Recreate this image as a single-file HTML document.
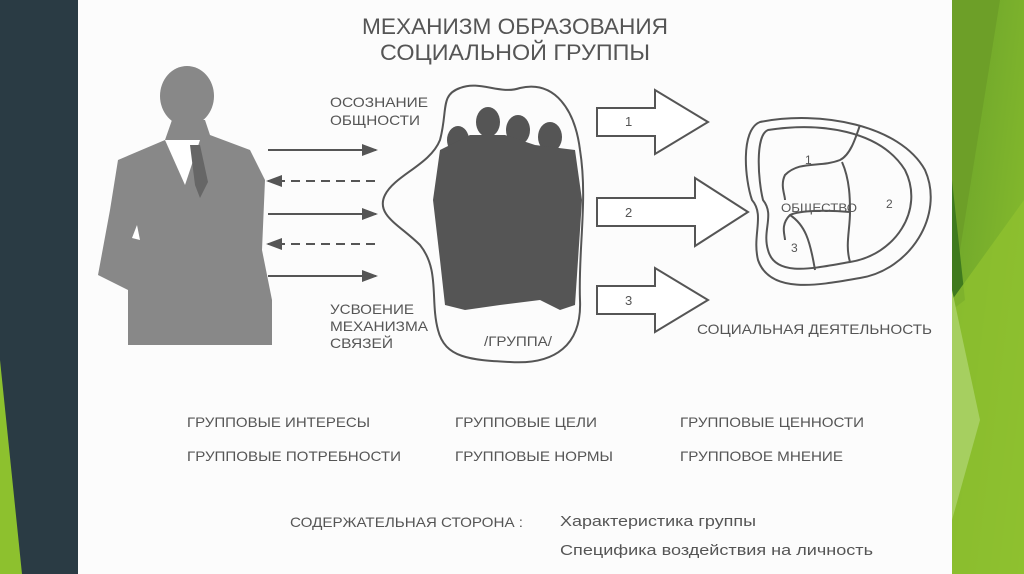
<!DOCTYPE html>
<html><head><meta charset="utf-8"><style>
html,body{margin:0;padding:0;width:1024px;height:574px;overflow:hidden;background:#fff}
svg{display:block}
text{font-family:"Liberation Sans",sans-serif;fill:#555}
</style></head><body>
<svg width="1024" height="574" viewBox="0 0 1024 574" xmlns="http://www.w3.org/2000/svg">
<defs>
<linearGradient id="g1" x1="0" y1="0" x2="1" y2="1"><stop offset="0" stop-color="#6aa22a"/><stop offset="1" stop-color="#8dc12e"/></linearGradient>
<marker id="ah" markerWidth="8" markerHeight="8" refX="7" refY="4" orient="auto"><path d="M0,1 L8,4 L0,7 Z" fill="#555"/></marker>
</defs>
<rect x="0" y="0" width="78" height="574" fill="#2a3b44"/>
<polygon points="0,360 22,574 0,574" fill="#8dc12e"/>
<rect x="952" y="0" width="72" height="574" fill="url(#g1)"/>
<polygon points="952,0 1000,0 952,300" fill="#6d9f28"/>
<polygon points="952,180 965,300 952,310" fill="#3f7a1e"/>
<polygon points="952,300 1024,200 1024,574 952,574" fill="#8fc030" opacity="0.8"/>
<polygon points="952,290 980,420 952,520" fill="#a6cf60"/>
<rect x="78" y="0" width="874" height="574" fill="#fcfcfc"/>

<text x="515" y="34" font-size="22" text-anchor="middle" textLength="306" lengthAdjust="spacingAndGlyphs">МЕХАНИЗМ ОБРАЗОВАНИЯ</text>
<text x="515" y="60" font-size="22" text-anchor="middle" textLength="270" lengthAdjust="spacingAndGlyphs">СОЦИАЛЬНОЙ  ГРУППЫ</text>

<g fill="#888">
<ellipse cx="187" cy="96" rx="27" ry="30"/>
<path d="M172,120 L165,140 L118,160 L110,210 L98,275 L128,290 L128,345 L272,345 L272,300 L262,250 L265,180 L250,150 L210,135 L205,120 Z"/>
</g>
<path d="M165,140 L185,185 L200,140 Z" fill="#fff"/>
<path d="M190,145 L195,185 L200,198 L208,182 L200,145 Z" fill="#666"/>
<path d="M137,225 L132,238 L140,240 Z" fill="#fff"/>

<g stroke="#555" stroke-width="2" fill="none">
<line x1="268" y1="150" x2="376" y2="150" marker-end="url(#ah)"/>
<line x1="375" y1="181" x2="268" y2="181" stroke-dasharray="9,6" marker-end="url(#ah)"/>
<line x1="268" y1="214" x2="376" y2="214" marker-end="url(#ah)"/>
<line x1="375" y1="244" x2="268" y2="244" stroke-dasharray="9,6" marker-end="url(#ah)"/>
<line x1="268" y1="276" x2="376" y2="276" marker-end="url(#ah)"/>
</g>
<g font-size="14">
<text x="330" y="107" textLength="98" lengthAdjust="spacingAndGlyphs">ОСОЗНАНИЕ</text>
<text x="330" y="125" textLength="90" lengthAdjust="spacingAndGlyphs">ОБЩНОСТИ</text>
<text x="330" y="314" textLength="84" lengthAdjust="spacingAndGlyphs">УСВОЕНИЕ</text>
<text x="330" y="331" textLength="98" lengthAdjust="spacingAndGlyphs">МЕХАНИЗМА</text>
<text x="330" y="348" textLength="63" lengthAdjust="spacingAndGlyphs">СВЯЗЕЙ</text>
</g>

<path d="M460,88 C480,80 500,95 520,88 C555,80 575,110 580,150 C588,200 578,250 580,300 C582,345 555,365 510,362 C470,360 445,358 438,330 C430,300 440,270 420,245 C400,225 375,215 385,195 C395,175 430,165 440,140 C448,110 440,95 460,88 Z" fill="none" stroke="#555" stroke-width="2"/>
<g fill="#555">
<ellipse cx="488" cy="122" rx="12" ry="15"/>
<ellipse cx="518" cy="130" rx="12" ry="15"/>
<ellipse cx="550" cy="137" rx="12" ry="15"/>
<ellipse cx="458" cy="140" rx="11" ry="14"/>
<path d="M440,150 L470,135 L505,135 L535,145 L575,150 L582,200 L578,260 L575,305 L560,310 L540,300 L500,305 L465,310 L445,305 L440,260 L433,200 Z"/>
</g>
<text x="484" y="346" font-size="14" textLength="68" lengthAdjust="spacingAndGlyphs">/ГРУППА/</text>

<g fill="#fff" stroke="#555" stroke-width="2">
<path d="M597,108 L655,108 L655,90 L708,122 L655,154 L655,136 L597,136 Z"/>
<path d="M597,198 L695,198 L695,178 L748,212 L695,246 L695,226 L597,226 Z"/>
<path d="M597,286 L655,286 L655,268 L708,300 L655,332 L655,314 L597,314 Z"/>
</g>
<text x="625" y="126" font-size="13">1</text>
<text x="625" y="217" font-size="13">2</text>
<text x="625" y="305" font-size="13">3</text>

<g fill="none" stroke="#555" stroke-width="2">
<path d="M760,122 C820,110 900,125 925,170 C945,215 910,270 860,278 C820,285 770,295 758,260 C752,235 765,215 752,200 C745,180 740,130 760,122 Z"/>
<path d="M768,130 C820,122 880,130 905,170 C925,210 895,255 850,262 C815,268 775,278 768,250 C762,230 775,215 763,200 C758,180 755,135 768,130 Z"/>
<path d="M860,125 C855,140 850,155 840,160 C820,168 800,160 785,175 C780,185 785,195 785,200"/>
<path d="M842,162 C850,180 850,200 850,212 C850,230 845,245 850,262"/>
<path d="M850,212 C830,210 800,210 790,215 C780,225 785,235 785,240"/>
<path d="M790,215 C805,225 810,240 815,270"/>
</g>
<text x="805" y="164" font-size="12">1</text>
<text x="886" y="208" font-size="12">2</text>
<text x="791" y="252" font-size="12">3</text>
<text x="781" y="212" font-size="12" textLength="76" lengthAdjust="spacingAndGlyphs">ОБЩЕСТВО</text>
<text x="697" y="334" font-size="14" textLength="235" lengthAdjust="spacingAndGlyphs">СОЦИАЛЬНАЯ ДЕЯТЕЛЬНОСТЬ</text>

<g font-size="14">
<text x="187" y="427" textLength="183" lengthAdjust="spacingAndGlyphs">ГРУППОВЫЕ ИНТЕРЕСЫ</text>
<text x="455" y="427" textLength="142" lengthAdjust="spacingAndGlyphs">ГРУППОВЫЕ ЦЕЛИ</text>
<text x="680" y="427" textLength="184" lengthAdjust="spacingAndGlyphs">ГРУППОВЫЕ ЦЕННОСТИ</text>
<text x="187" y="461" textLength="214" lengthAdjust="spacingAndGlyphs">ГРУППОВЫЕ ПОТРЕБНОСТИ</text>
<text x="455" y="461" textLength="158" lengthAdjust="spacingAndGlyphs">ГРУППОВЫЕ НОРМЫ</text>
<text x="680" y="461" textLength="163" lengthAdjust="spacingAndGlyphs">ГРУППОВОЕ МНЕНИЕ</text>
<text x="290" y="527" textLength="233" lengthAdjust="spacingAndGlyphs">СОДЕРЖАТЕЛЬНАЯ СТОРОНА :</text>
<text x="560" y="526" font-size="15" textLength="196" lengthAdjust="spacingAndGlyphs">Характеристика группы</text>
<text x="560" y="555" font-size="15" textLength="313" lengthAdjust="spacingAndGlyphs">Специфика воздействия на личность</text>
</g>
</svg>
</body></html>
